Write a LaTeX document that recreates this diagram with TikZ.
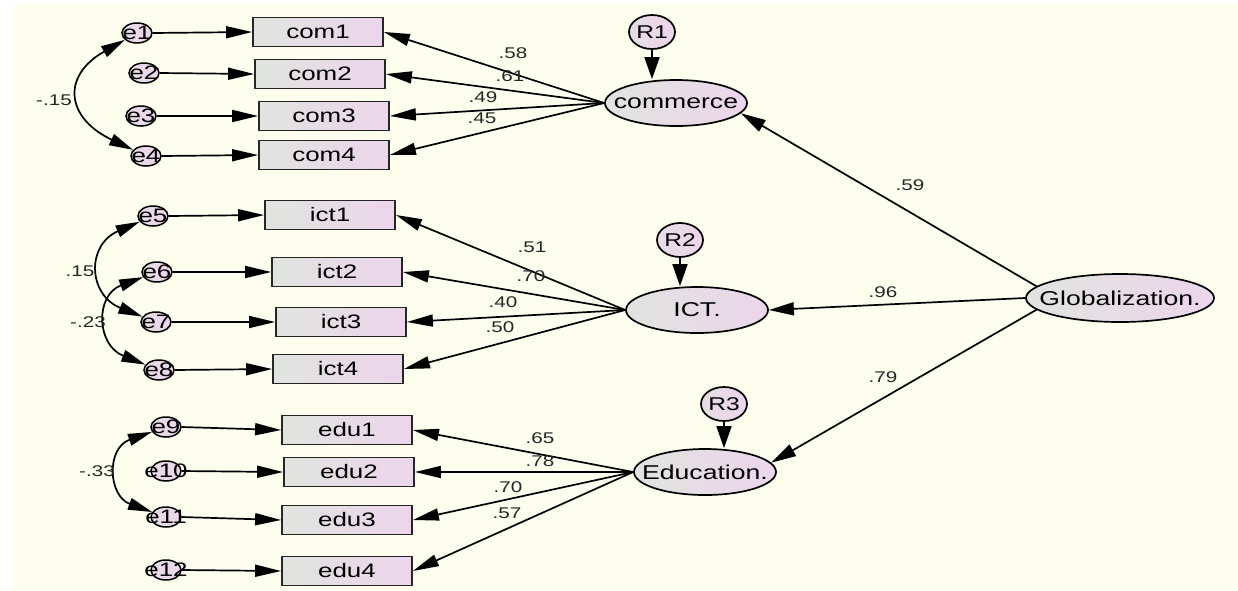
\documentclass[tikz,border=0pt]{standalone}
\usepackage{fontspec}
\setmainfont[FakeStretch=1.33]{Liberation Sans}
\usetikzlibrary{shapes.geometric,arrows.meta}
\definecolor{bgc}{RGB}{253,254,238}
\definecolor{shL}{RGB}{224,228,223}
\definecolor{shR}{RGB}{237,213,236}
\begin{document}
\begin{tikzpicture}[x=1pt,y=1pt,
  obs/.style={draw=black!85, line width=1.8pt, left color=shL, right color=shR,
    minimum width=130pt, minimum height=29pt, inner sep=0pt,
    font=\fontsize{19.5}{20}\selectfont},
  err/.style={ellipse, draw, line width=1.5pt, left color=shL!50!shR, right color=shR,
    minimum width=30pt, minimum height=20pt, inner sep=0pt,
    font=\fontsize{19.5}{20}\selectfont},
  res/.style={ellipse, draw, line width=1.7pt, left color=shL!50!shR, right color=shR,
    minimum width=46pt, minimum height=34pt, inner sep=0pt,
    font=\fontsize{18.5}{20}\selectfont},
  lat/.style={ellipse, draw, line width=1.7pt, left color=shL, right color=shR,
    minimum width=142pt, minimum height=46pt, inner sep=0pt,
    font=\fontsize{20}{20}\selectfont},
  arr/.style={line width=1.7pt, -{Triangle[length=26pt,width=12pt]}},
  rarr/.style={line width=1.7pt, -{Triangle[length=22pt,width=15pt]}},
  garr/.style={line width=1.7pt, -{Triangle[length=25pt,width=13pt]}},
  cov/.style={line width=1.7pt, {Triangle[length=24pt,width=12pt]}-{Triangle[length=24pt,width=12pt]}},
  lbl/.style={font=\fontsize{15.5}{16}\selectfont, inner sep=0pt, text=black!85}
]
\useasboundingbox (0,0) rectangle (1238,-590);
\fill[white] (0,0) rectangle (1238,-590);
\fill[bgc] (12,-5) rectangle (1238,-590);

% ---- commerce block
\node[obs] (com1) at (318,-32) {com1};
\node[obs] (com2) at (320,-74) {com2};
\node[obs] (com3) at (324,-116) {com3};
\node[obs] (com4) at (324,-155) {com4};
\node[err] (e1) at (137,-33) {\makebox[0pt]{e1}};
\node[err] (e2) at (144,-73) {\makebox[0pt]{e2}};
\node[err] (e3) at (141,-116) {\makebox[0pt]{e3}};
\node[err] (e4) at (146,-156) {\makebox[0pt]{e4}};
\node[lat] (commerce) at (676,-103) {\makebox[0pt]{commerce}};
\node[res] (R1) at (652,-32) {\makebox[0pt]{R1}};

% ---- ICT block
\node[obs] (ict1) at (330,-215) {ict1};
\node[obs] (ict2) at (337,-272) {ict2};
\node[obs] (ict3) at (341,-322) {ict3};
\node[obs] (ict4) at (338,-369) {ict4};
\node[err] (e5) at (153,-216) {\makebox[0pt]{e5}};
\node[err] (e6) at (157,-272) {\makebox[0pt]{e6}};
\node[err] (e7) at (156,-322) {\makebox[0pt]{e7}};
\node[err] (e8) at (159,-370) {\makebox[0pt]{e8}};
\node[lat] (ICT) at (697,-310) {\makebox[0pt]{ICT.}};
\node[res] (R2) at (680,-240) {\makebox[0pt]{R2}};

% ---- Education block
\node[obs] (edu1) at (347,-430) {edu1};
\node[obs] (edu2) at (349,-472) {edu2};
\node[obs] (edu3) at (347,-520) {edu3};
\node[obs] (edu4) at (347,-571) {edu4};
\node[err] (e9) at (166,-427) {\makebox[0pt]{e9}};
\node[err] (e10) at (166,-471) {\makebox[0pt]{e10}};
\node[err] (e11) at (166,-517) {\makebox[0pt]{e11}};
\node[err] (e12) at (166,-570) {\makebox[0pt]{e12}};
\node[lat] (Edu) at (705,-472) {\makebox[0pt]{Education.}};
\node[res] (R3) at (724,-404) {\makebox[0pt]{R3}};

% ---- Globalization
\node[lat, minimum width=188pt, minimum height=48pt] (glob) at (1120,-298) {\makebox[0pt]{Globalization.}};

% error -> indicator
\foreach \e/\b in {e1/com1,e2/com2,e3/com3,e4/com4,e5/ict1,e6/ict2,e7/ict3,e8/ict4,e9/edu1,e10/edu2,e11/edu3,e12/edu4}
  \draw[arr] (\e.east) -- (\b.west);

% latent -> indicator
\foreach \b in {com1,com2,com3,com4} \draw[arr] (commerce.west) -- (\b.east);
\foreach \b in {ict1,ict2,ict3,ict4} \draw[arr] (ICT.west) -- (\b.east);
\foreach \b in {edu1,edu2,edu3,edu4} \draw[arr] (Edu.west) -- (\b.east);

% residuals
\draw[rarr] (R1.south) -- (R1.south |- commerce.north);
\draw[rarr] (R2.south) -- (R2.south |- ICT.north);
\draw[rarr] (R3.south) -- (R3.south |- Edu.north);

% second order
\draw[garr] (glob.172) -- (commerce.-9);
\draw[garr] (glob.west) -- (ICT.east);
\draw[garr] (glob.188) -- (Edu.8);

% covariances
\draw[cov] (e1) .. controls (61,-76) and (66,-118) .. (e4);
\draw[cov] (e5) .. controls (86,-245) and (88,-295) .. (e7);
\draw[cov] (e6) .. controls (95,-295) and (96,-345) .. (e8);
\draw[cov] (e9) .. controls (106,-448) and (108,-496) .. (e11);

% labels
\node[lbl] (l1) at (513,-53) {.58};
\node[lbl] (l2) at (510,-76) {.61};
\node[lbl] (l3) at (483,-97) {.49};
\node[lbl] (l4) at (482,-118) {.45};
\node[lbl] (l5) at (532,-247) {.51};
\node[lbl] (l6) at (531,-276) {.70};
\node[lbl] (l7) at (503,-302) {.40};
\node[lbl] (l8) at (500,-327) {.50};
\node[lbl] (l9) at (540,-438) {.65};
\node[lbl] (l10) at (540,-461) {.78};
\node[lbl] (l11) at (508,-487) {.70};
\node[lbl] (l12) at (507,-513) {.57};
\node[lbl] (l13) at (910,-185) {.59};
\node[lbl] (l14) at (883,-292) {.96};
\node[lbl] (l15) at (883,-377) {.79};
\node[lbl] (c1) at (54,-100) {-.15};
\node[lbl] (c2) at (80,-271) {.15};
\node[lbl] (c3) at (88,-322) {-.23};
\node[lbl] (c4) at (97,-471) {-.33};
\end{tikzpicture}
\end{document}
